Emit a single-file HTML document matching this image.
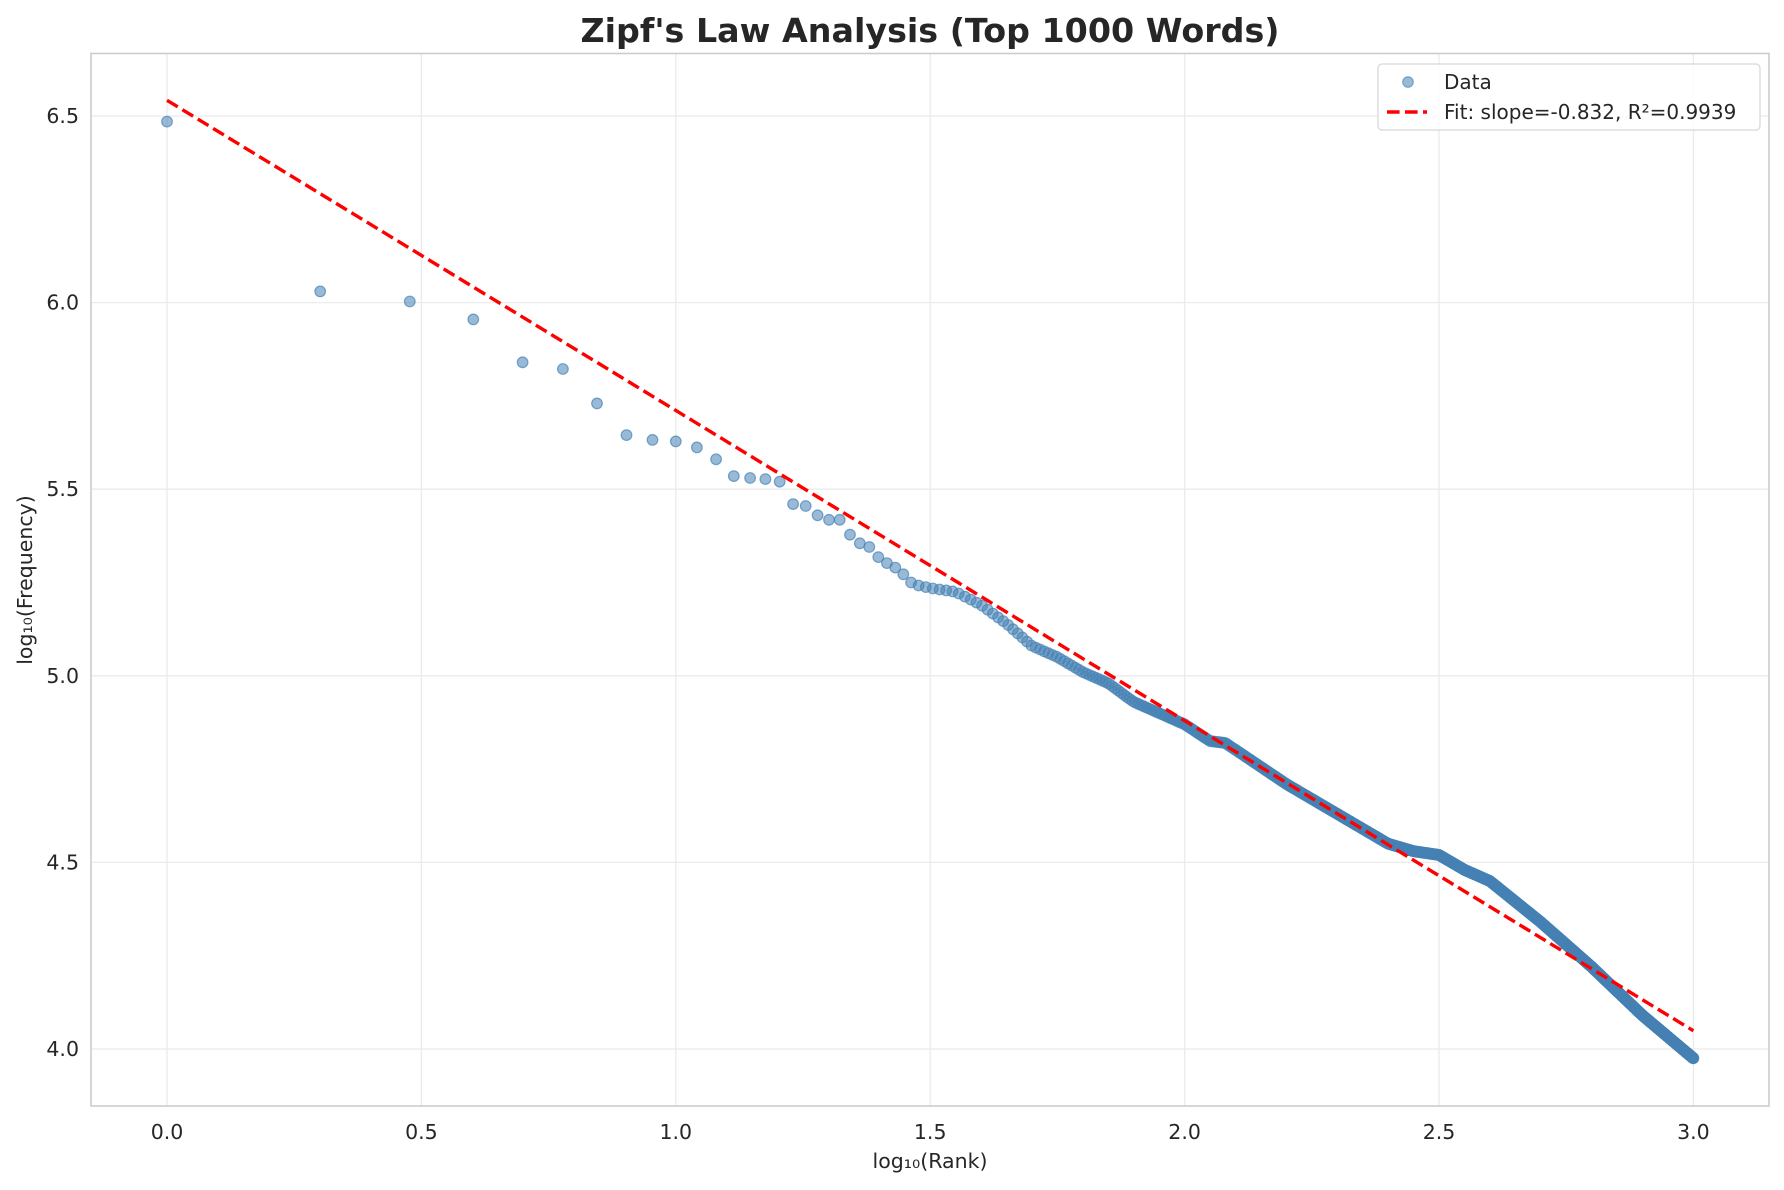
<!DOCTYPE html>
<html><head><meta charset="utf-8"><style>
body{margin:0;background:#fff;}
svg text{font-family:"DejaVu Sans","Liberation Sans",sans-serif;fill:#262626;}
</style></head><body>
<svg id="s" width="1784" height="1185" xmlns="http://www.w3.org/2000/svg">
<rect width="1784" height="1185" fill="#fff"/>
<g id="grid" stroke="#ebebeb" stroke-width="1.3"></g>
<g id="pts"></g>
<line x1="167" y1="100.3" x2="1693.4" y2="1030.8" stroke="#ff0000" stroke-width="3.4" stroke-dasharray="12.6,5.4"/>
<rect x="91" y="53.5" width="1678" height="1052.5" fill="none" stroke="#cccccc" stroke-width="1.6"/>
<g id="ticks" font-size="20.5"></g>
<text x="930" y="42" font-size="33.3" font-weight="bold" text-anchor="middle">Zipf's Law Analysis (Top 1000 Words)</text>
<text x="930" y="1168" font-size="20.5" text-anchor="middle">log₁₀(Rank)</text>
<text transform="translate(32,580) rotate(-90)" font-size="20.5" text-anchor="middle">log₁₀(Frequency)</text>
<rect x="1378" y="64" width="382" height="66" rx="4" fill="#fff" fill-opacity="0.85" stroke="#d6d6d6" stroke-width="1.2"/>
<circle cx="1408" cy="82" r="5.3" fill="#4682b4" fill-opacity="0.55" stroke="#4682b4" stroke-opacity="0.7"/>
<text x="1444" y="89" font-size="20">Data</text>
<line x1="1387" y1="112" x2="1427" y2="112" stroke="#ff0000" stroke-width="3.4" stroke-dasharray="12.6,5.4"/>
<text x="1444" y="119" font-size="20">Fit: slope=-0.832, R²=0.9939</text>
</svg>
<script>
var X=function(v){return 167+v*508.8},Y=function(v){return 116+(6.5-v)*373.2};
var g=document.getElementById('grid'),t=document.getElementById('ticks'),p=document.getElementById('pts'),h='',th='';
[0,0.5,1,1.5,2,2.5,3].forEach(function(v){h+='<line x1="'+X(v)+'" x2="'+X(v)+'" y1="53.5" y2="1106"/>';th+='<text x="'+X(v)+'" y="1139" text-anchor="middle">'+v.toFixed(1)+'</text>';});
[4,4.5,5,5.5,6,6.5].forEach(function(v){h+='<line x1="91" x2="1769" y1="'+Y(v)+'" y2="'+Y(v)+'"/>';th+='<text x="79" y="'+(Y(v)+7)+'" text-anchor="end">'+v.toFixed(1)+'</text>';});
g.innerHTML=h;t.innerHTML=th;
var early=[6.485,6.03,6.003,5.955,5.84,5.822,5.73,5.645,5.632,5.628,5.612,5.58,5.535,5.53,5.527,5.52,5.46,5.455,5.43,5.418,5.418,5.378,5.355,5.345,5.318,5.302,5.29,5.272,5.25,5.242];
var A=[[1.477,5.242],[1.5,5.235],[1.55,5.225],[1.6,5.19],[1.65,5.14],[1.7,5.08],[1.75,5.05],[1.8,5.01],[1.85,4.98],[1.9,4.93],[2.0,4.87],[2.05,4.825],[2.08,4.82],[2.2,4.71],[2.3,4.63],[2.4,4.55],[2.45,4.53],[2.5,4.52],[2.55,4.48],[2.6,4.45],[2.7,4.34],[2.8,4.22],[2.9,4.09],[3.0,3.975]];
function f(x){for(var i=0;i<A.length-1;i++){if(x<=A[i+1][0]){var a=A[i],b=A[i+1];return a[1]+(b[1]-a[1])*(x-a[0])/(b[0]-a[0]);}}return 3.975;}
var s='';
for(var r=1;r<=1000;r++){var lx=Math.log10(r),ly=r<=30?early[r-1]:f(lx);
s+='<circle cx="'+X(lx).toFixed(1)+'" cy="'+Y(ly).toFixed(1)+'" r="5.3"/>';}
p.setAttribute('fill','#4682b4');p.setAttribute('fill-opacity','0.55');p.setAttribute('stroke','#4682b4');p.setAttribute('stroke-opacity','0.7');p.setAttribute('stroke-width','1.2');
p.innerHTML=s;
</script>
</body></html>
